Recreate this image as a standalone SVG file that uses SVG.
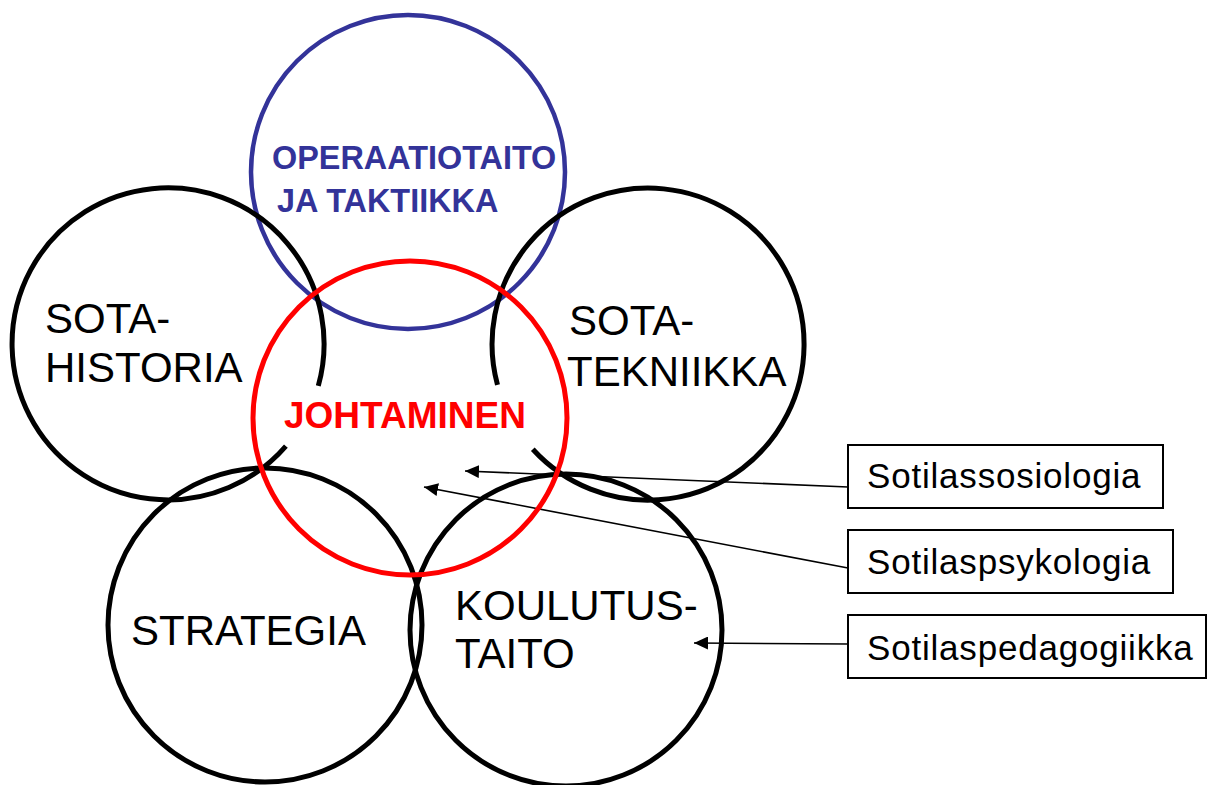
<svg xmlns="http://www.w3.org/2000/svg" width="1208" height="785" viewBox="0 0 1208 785">
  <style>
    .ring { fill: none; stroke: #000; stroke-width: 5; }
    .lbl { font-family: "Liberation Sans", Arial, sans-serif; font-size: 42px; fill: #000; }
    .box { fill: #fff; stroke: #000; stroke-width: 2; }
    .boxlbl { font-family: "Liberation Sans", Arial, sans-serif; font-size: 35px; fill: #000; letter-spacing: 0.8px; }
    .conn { stroke: #000; stroke-width: 1.6; fill: none; marker-end: url(#head); }
  </style>
  <defs>
    <marker id="head" markerUnits="userSpaceOnUse" markerWidth="15" markerHeight="13" refX="14" refY="6.5" orient="auto">
      <path d="M0,0 L14,6.5 L0,13 z" fill="#000"/>
    </marker>
  </defs>
  <rect width="1208" height="785" fill="#fff"/>

  <!-- arrows from the side boxes -->
  <g id="connectors">
    <line class="conn" x1="848" y1="487" x2="465" y2="471"/>
    <line class="conn" x1="848" y1="568" x2="424" y2="487"/>
    <line class="conn" x1="848" y1="644" x2="694" y2="643"/>
  </g>

  <g id="operaatiotaito">
    <circle cx="408" cy="172" r="157" fill="none" stroke="#333399" stroke-width="4.5"/>
    <text font-family="Liberation Sans, Arial, sans-serif" font-weight="bold" font-size="32.4" fill="#333399">
      <tspan x="272" y="169">OPERAATIOTAITO</tspan>
      <tspan x="277" y="212">JA TAKTIIKKA</tspan>
    </text>
  </g>

  <g id="sotahistoria">
    <path class="ring" d="M285.9,446.1 A156,156 0 1 1 318.3,385.9"/>
    <text class="lbl"><tspan x="45" y="333">SOTA-</tspan><tspan x="45" y="382">HISTORIA</tspan></text>
  </g>

  <g id="sotatekniikka">
    <path class="ring" d="M497.5,384.9 A156,156 0 1 1 532.8,449.2"/>
    <text class="lbl"><tspan x="569" y="335">SOTA-</tspan><tspan x="567" y="386">TEKNIIKKA</tspan></text>
  </g>

  <g id="strategia">
    <circle class="ring" cx="265" cy="625" r="157"/>
    <text class="lbl" x="131" y="645">STRATEGIA</text>
  </g>

  <g id="koulutustaito">
    <circle class="ring" cx="566" cy="630" r="156"/>
    <text class="lbl"><tspan x="455" y="620">KOULUTUS-</tspan><tspan x="455" y="668">TAITO</tspan></text>
  </g>

  <g id="johtaminen">
    <circle cx="410" cy="418" r="157" fill="none" stroke="#ff0000" stroke-width="5"/>
    <text x="284" y="428" font-family="Liberation Sans, Arial, sans-serif" font-weight="bold" font-size="37" fill="#ff0000">JOHTAMINEN</text>
  </g>

  <g id="sotilassosiologia">
    <rect class="box" x="848" y="445" width="315" height="63"/>
    <text class="boxlbl" x="867" y="488">Sotilassosiologia</text>
  </g>

  <g id="sotilaspsykologia">
    <rect class="box" x="848" y="530" width="325" height="63"/>
    <text class="boxlbl" x="867" y="574">Sotilaspsykologia</text>
  </g>

  <g id="sotilaspedagogiikka">
    <rect class="box" x="848" y="615" width="358" height="63"/>
    <text class="boxlbl" x="867" y="660">Sotilaspedagogiikka</text>
  </g>
</svg>
